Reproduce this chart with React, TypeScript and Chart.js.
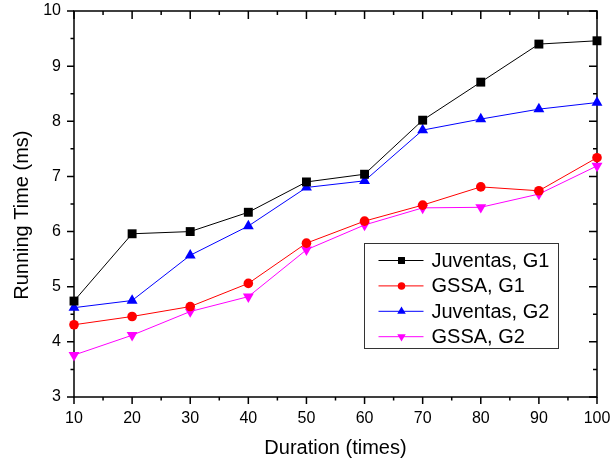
import React, { useEffect, useRef } from 'react';
import { Chart, registerables } from 'chart.js';

Chart.register(...registerables);

const durations = [10, 20, 30, 40, 50, 60, 70, 80, 90, 100];
const juventasG1 = [4.74, 5.96, 6.0, 6.35, 6.9, 7.04, 8.02, 8.71, 9.4, 9.46];
const gssaG1 = [4.31, 4.46, 4.64, 5.06, 5.79, 6.19, 6.48, 6.81, 6.74, 7.34];
const juventasG2 = [4.62, 4.75, 5.57, 6.1, 6.8, 6.92, 7.84, 8.04, 8.22, 8.34];
const gssaG2 = [3.76, 4.12, 4.55, 4.82, 5.67, 6.12, 6.43, 6.44, 6.68, 7.19];
const seriesLabels = ['Juventas, G1', 'GSSA, G1', 'Juventas, G2', 'GSSA, G2'];
const xTitle = 'Duration (times)';
const yTitle = 'Running Time (ms)';

const FONT = "Arial, 'Liberation Sans', sans-serif";

function drawMarker(ctx: CanvasRenderingContext2D, style: string, rotation: number, x: number, y: number, r: number, color: string) {
  ctx.save();
  ctx.fillStyle = color;
  ctx.beginPath();
  if (style === 'rect') {
    const s = r * Math.SQRT1_2;
    ctx.rect(x - s, y - s, 2 * s, 2 * s);
  } else if (style === 'circle') {
    ctx.arc(x, y, r, 0, Math.PI * 2);
  } else if (style === 'triangle') {
    let rad = (rotation || 0) * Math.PI / 180;
    ctx.moveTo(x + Math.sin(rad) * r, y - Math.cos(rad) * r);
    rad += (2 * Math.PI) / 3;
    ctx.lineTo(x + Math.sin(rad) * r, y - Math.cos(rad) * r);
    rad += (2 * Math.PI) / 3;
    ctx.lineTo(x + Math.sin(rad) * r, y - Math.cos(rad) * r);
    ctx.closePath();
  }
  ctx.fill();
  ctx.restore();
}

const framePlugin = {
  id: 'originFrame',
  beforeDatasetsDraw(chart: any) {
    const { ctx, chartArea } = chart;
    const xs = chart.scales.x;
    const ys = chart.scales.y;
    const { left, right, top, bottom } = chartArea;
    ctx.save();
    ctx.strokeStyle = '#000';
    ctx.lineWidth = 1.5;
    ctx.strokeRect(left, top, right - left, bottom - top);
    ctx.beginPath();
    for (let v = xs.min; v <= xs.max + 1e-9; v += 5) {
      const major = Math.abs(v % 10) < 1e-9;
      const px = xs.getPixelForValue(v);
      ctx.moveTo(px, bottom);
      ctx.lineTo(px, bottom + (major ? 7 : 3.5));
      ctx.moveTo(px, top);
      ctx.lineTo(px, top + (major ? 8 : 4));
    }
    for (let v = ys.min; v <= ys.max + 1e-9; v += 0.5) {
      const major = Math.abs(v % 1) < 1e-9;
      const py = ys.getPixelForValue(v);
      ctx.moveTo(left, py);
      ctx.lineTo(left - (major ? 7 : 3.5), py);
      ctx.moveTo(right, py);
      ctx.lineTo(right - (major ? 8 : 4), py);
    }
    ctx.stroke();
    ctx.restore();
  },
};

const legendPlugin = {
  id: 'boxLegend',
  afterDraw(chart: any) {
    const { ctx, chartArea } = chart;
    const left = Math.round(chartArea.left + 290) + 0.5;
    const top = Math.round(chartArea.top + 232) + 0.5;
    const w = 194;
    const h = 105;
    ctx.save();
    ctx.fillStyle = '#fff';
    ctx.fillRect(left, top, w, h);
    ctx.strokeStyle = '#333';
    ctx.lineWidth = 1;
    ctx.strokeRect(left, top, w, h);
    chart.data.datasets.forEach((ds: any, i: number) => {
      const y = top + 17 + i * 25.4;
      ctx.strokeStyle = ds.borderColor;
      ctx.lineWidth = 1;
      ctx.beginPath();
      ctx.moveTo(left + 14, y);
      ctx.lineTo(left + 59, y);
      ctx.stroke();
      drawMarker(ctx, ds.pointStyle, ds.pointRotation, left + 37, y, ds.pointRadius * 0.78, ds.pointBackgroundColor);
      ctx.fillStyle = '#000';
      ctx.font = `20px ${FONT}`;
      ctx.textBaseline = 'middle';
      ctx.textAlign = 'left';
      ctx.fillText(ds.label, left + 67, y + 1);
    });
    ctx.restore();
  },
};

function makeDataset(label: string, values: number[], color: string, style: string, radius: number, rotation = 0) {
  return {
    label,
    data: durations.map((x, i) => ({ x, y: values[i] })),
    borderColor: color,
    backgroundColor: color,
    pointBackgroundColor: color,
    pointBorderColor: color,
    pointBorderWidth: 0,
    pointStyle: style,
    pointRadius: radius,
    pointRotation: rotation,
    borderWidth: 1,
    tension: 0,
    clip: false,
  };
}

function zeroPad(s: any) {
  s.paddingTop = 0;
  s.paddingBottom = 0;
  s.paddingLeft = 0;
  s.paddingRight = 0;
}

export default function App() {
  const ref = useRef<HTMLCanvasElement | null>(null);
  useEffect(() => {
    if (!ref.current) return;
    const chart = new Chart(ref.current, {
      type: 'line',
      data: {
        datasets: [
          makeDataset(seriesLabels[0], juventasG1, '#000000', 'rect', 6.3),
          makeDataset(seriesLabels[1], gssaG1, '#ff0000', 'circle', 4.8),
          makeDataset(seriesLabels[2], juventasG2, '#0000ff', 'triangle', 6.3),
          makeDataset(seriesLabels[3], gssaG2, '#ff00ff', 'triangle', 6.3, 180),
        ] as any,
      },
      options: {
        responsive: false,
        animation: false,
        layout: { padding: { top: 11, right: 14, left: 0, bottom: 0 } },
        plugins: {
          legend: { display: false },
          tooltip: { enabled: false },
        },
        scales: {
          x: {
            type: 'linear',
            min: 10,
            max: 100,
            ticks: { stepSize: 10, color: '#000', font: { family: FONT, size: 16 }, padding: 12, maxRotation: 0, autoSkip: false },
            grid: { display: false, drawTicks: false },
            border: { display: false },
            title: { display: true, text: xTitle, color: '#000', font: { family: FONT, size: 20 }, padding: { top: 0, bottom: 3 } },
            afterFit: (s: any) => { s.height = 66; zeroPad(s); },
          },
          y: {
            type: 'linear',
            min: 3,
            max: 10,
            ticks: { stepSize: 1, color: '#000', font: { family: FONT, size: 16 }, padding: 13 },
            grid: { display: false, drawTicks: false },
            border: { display: false },
            title: { display: true, text: yTitle + '    ', color: '#000', font: { family: FONT, size: 20 }, padding: { top: 10.5, bottom: 0 } },
            afterFit: (s: any) => { s.width = 74; zeroPad(s); },
          },
        },
      } as any,
      plugins: [framePlugin, legendPlugin],
    });
    return () => chart.destroy();
  }, []);
  return (
    <div style={{ position: 'fixed', left: 0, top: 0, width: 611, height: 463, background: '#fff' }}>
      <canvas ref={ref} width={611} height={463} style={{ display: 'block' }} />
    </div>
  );
}
